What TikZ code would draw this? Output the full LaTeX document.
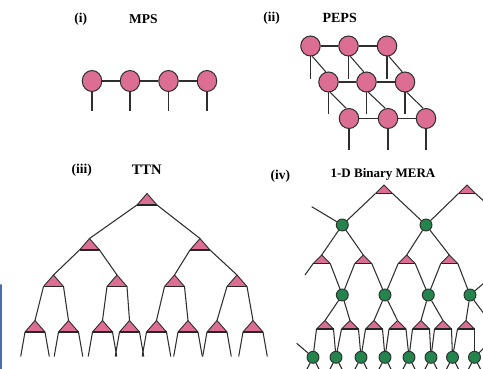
\documentclass[tikz,border=0pt]{standalone}
\usepackage{fontspec}
\setmainfont{Liberation Serif}
\usetikzlibrary{shapes.geometric}
\definecolor{tnpink}{HTML}{DC6E93}
\definecolor{tngreen}{HTML}{23844E}
\definecolor{tnline}{HTML}{2E2E2E}
\definecolor{tnblue}{HTML}{4A6DB0}
\begin{document}
\begin{tikzpicture}[x=1pt,y=-1pt,
  bond/.style={draw=tnline,line width=1.05pt},
  site/.style={ellipse,draw=tnline,line width=1pt,fill=tnpink,
    minimum width=19.5pt,minimum height=21pt,inner sep=0pt},
  psite/.style={site,minimum height=20pt},
  dis/.style={circle,draw=tnline,line width=0.9pt,fill=tngreen,
    minimum size=12pt,inner sep=0pt},
  title/.style={font=\bfseries\fontsize{13.5}{13.5}\selectfont,inner sep=0pt},
  ttri/.pic={
    \coordinate (-a) at (0,0);
    \coordinate (-l) at (-10,11.5);
    \coordinate (-r) at (10,11.5);
    \fill[tnpink] (-a) -- (-l) -- (-r) -- cycle;
    \draw[tnline,line width=0.9pt] (-l) -- (-a) -- (-r);
    \draw[black!85,line width=1.4pt] (-l) -- (-r);
  },
  mtri/.pic={
    \coordinate (-a) at (0,0);
    \coordinate (-l) at (-8.5,8.5);
    \coordinate (-r) at (8.5,8.5);
    \fill[tnpink] (-a) -- (-l) -- (-r) -- cycle;
    \draw[tnline,line width=0.9pt] (-l) -- (-a) -- (-r);
    \draw[black!85,line width=1.3pt] (-l) -- (-r);
  }]
\useasboundingbox (0,0) rectangle (483,369);
\fill[white] (0,0) rectangle (483,369);
\clip (0,0) rectangle (483,369);

% ---------- titles ----------
\node[title] (ti) at (80.7,19.3) {(i)};
\node[title] (tmps) at (143.3,19.3) {MPS};
\node[title] (tii) at (271.7,18.3) {(ii)};
\node[title,font=\bfseries\fontsize{14}{14}\selectfont] (tpeps) at (339.7,18.3) {PEPS};
\node[title] (tiii) at (81.7,170) {(iii)};
\node[title,font=\bfseries\fontsize{14.5}{14.5}\selectfont] (tttn) at (146.7,169.5) {TTN};
\node[title] (tiv) at (280.3,176) {(iv)};
\node[title,font=\bfseries\fontsize{13}{13}\selectfont] (tmera) at (383,174) {1-D Binary MERA};

% ---------- MPS ----------
\foreach \i/\x in {1/92,2/130,3/168.5,4/207}{
  \node[site] (m\i) at (\x,81) {};
  \coordinate (m\i e) at (\x,111.5);
  \draw[bond] (m\i) -- (m\i e);
}
\foreach \i/\j in {1/2,2/3,3/4}{\draw[bond] (m\i) -- (m\j);}

% ---------- PEPS ----------
\foreach \r/\y/\e/\xa/\xb/\xc in {1/46/79/310.5/348.5/387,
                                  2/82/114/328.5/366.5/405,
                                  3/118.5/150/349/388/426}{
  \foreach \c/\x in {1/\xa,2/\xb,3/\xc}{
    \node[psite] (p\r\c) at (\x,\y) {};
    \coordinate (p\r\c e) at (\x,\e);
    \draw[bond] (p\r\c) -- (p\r\c e);
  }
  \draw[bond] (p\r1) -- (p\r2);
  \draw[bond] (p\r2) -- (p\r3);
}
\foreach \c in {1,2,3}{
  \draw[bond] (p1\c.-80) -- (p2\c.105);
  \draw[bond] (p2\c.-80) -- (p3\c.105);
}

% ---------- TTN ----------
\pic (t) at (147,193.5) {ttri};
\pic (a1) at (89.5,238.5) {ttri};
\pic (a2) at (200,238.5) {ttri};
\foreach \i/\x in {1/53.5,2/117,3/174.5,4/237}{\pic (b\i) at (\x,275) {ttri};}
\foreach \i/\x in {1/35,2/68.5,3/102.5,4/129.5,5/156.5,6/188,7/217,8/253}{
  \pic (c\i) at (\x,320.5) {ttri};
  \coordinate (c\i le) at (\x-14.3,356.5);
  \coordinate (c\i re) at (\x+14.3,356.5);
  \draw[bond] (c\i-l) -- (c\i le);
  \draw[bond] (c\i-r) -- (c\i re);
}
\draw[bond] (t-l) -- (a1-a);
\draw[bond] (t-r) -- (a2-a);
\draw[bond] (a1-l) -- (b1-a);
\draw[bond] (a1-r) -- (b2-a);
\draw[bond] (a2-l) -- (b3-a);
\draw[bond] (a2-r) -- (b4-a);
\foreach \i/\j/\k in {1/1/2,2/3/4,3/5/6,4/7/8}{
  \draw[bond] (b\i-l) -- (c\j-a);
  \draw[bond] (b\i-r) -- (c\k-a);
}

% ---------- 1-D binary MERA ----------
\pic (A1) at (384,185) {mtri};
\pic (A2) at (467,185) {mtri};
\node[dis] (G1) at (342.3,225) {};
\node[dis] (G2) at (426,225) {};
\coordinate (G0) at (311.7,206.7);
\coordinate (G3) at (510,225);
\foreach \i/\x in {1/321.7,2/363.3,3/406.7,4/449.3}{\pic (B\i) at (\x,255) {mtri};}
\foreach \i/\x in {1/342.3,2/385,3/428.3,4/470}{\node[dis] (H\i) at (\x,295) {};}
\coordinate (H0) at (305,275);
\coordinate (B5) at (497,272);
\foreach \i/\x in {1/325,2/350,3/374,4/397.5,5/421,6/443,7/466}{\pic (C\i) at (\x,320.5) {mtri};}
\coordinate (C8) at (489,320.5);
\foreach \i/\x in {1/313,2/336,3/361,4/385,5/409,6/431,7/452.5,8/474.5}{
  \node[dis] (K\i) at (\x,357.3) {};
  \coordinate (K\i le) at (\x-8,373);
  \coordinate (K\i re) at (\x+8,373);
  \draw[bond] (K\i) -- (K\i le);
  \draw[bond] (K\i) -- (K\i re);
}
\coordinate (K0) at (296.7,343.3);
\coordinate (C0) at (492,340);

\draw[bond] (G0) -- (G1);
\draw[bond] (A1-l) -- (G1);
\draw[bond] (A1-r) -- (G2);
\draw[bond] (A2-l) -- (G2);
\draw[bond] (A2-r) -- (G3);
\draw[bond] (G1) -- (B1-a);
\draw[bond] (G1) -- (B2-a);
\draw[bond] (G2) -- (B3-a);
\draw[bond] (G2) -- (B4-a);
\draw[bond] (B1-l) -- (H0);
\draw[bond] (B1-r) -- (H1);
\draw[bond] (B2-l) -- (H1);
\draw[bond] (B2-r) -- (H2);
\draw[bond] (B3-l) -- (H2);
\draw[bond] (B3-r) -- (H3);
\draw[bond] (B4-l) -- (H3);
\draw[bond] (B4-r) -- (H4);
\draw[bond] (H4) -- (B5);
\draw[bond] (H1) -- (C1-a);
\draw[bond] (H1) -- (C2-a);
\draw[bond] (H2) -- (C3-a);
\draw[bond] (H2) -- (C4-a);
\draw[bond] (H3) -- (C5-a);
\draw[bond] (H3) -- (C6-a);
\draw[bond] (H4) -- (C7-a);
\draw[bond] (H4) -- (C8);
\foreach \i/\j in {1/2,2/3,3/4,4/5,5/6,6/7,7/8}{
  \draw[bond] (C\i-l) -- (K\i);
  \draw[bond] (C\i-r) -- (K\j);
}
\draw[bond] (K0) -- (K1);
\draw[bond] (K8) -- (C0);

% ---------- edge of a blue frame at the left ----------
\draw[tnblue,line width=2pt,line cap=round] (1,285) -- (1,375);
\end{tikzpicture}
\end{document}
